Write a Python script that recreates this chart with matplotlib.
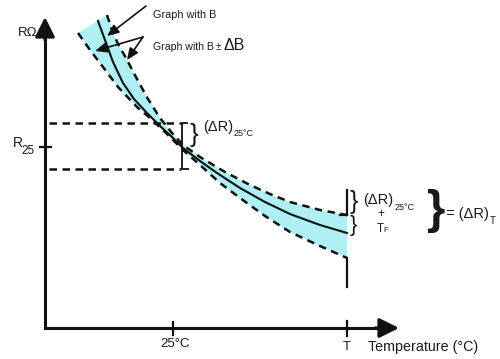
import numpy as np
import matplotlib
matplotlib.use("Agg")
import matplotlib.pyplot as plt

# Schematic curve data (x = temperature position, y = resistance position, both in drawing units)
solid_x = [98, 105, 113, 123, 134, 147, 160, 172, 183, 200, 217, 240, 265, 290, 320, 347]
solid_y = [21, 40, 62, 83, 99, 113, 126, 137, 148, 161, 173, 188, 202, 214, 225, 233]

upper_x = [107, 112, 118, 126, 137, 148, 160, 172, 183, 200, 225, 250, 270, 290, 320, 347]
upper_y = [15, 30, 44, 58, 79, 99, 118, 133, 145, 157, 172, 185, 194, 202, 210, 215]

lower_x = [78, 90, 103, 118, 137, 150, 165, 183, 200, 220, 240, 265, 290, 320, 347]
lower_y = [33, 50, 67, 87, 107, 118, 132, 150, 165, 183, 198, 216, 232, 246, 258]

# reference levels
r25_level = 147
dr25_upper = 123
dr25_lower = 169
t25_pos = 173
tT_pos = 347

plt.rcParams['font.family'] = ['Liberation Sans', 'DejaVu Sans']

fig = plt.figure(figsize=(5.0, 3.59), dpi=100)
ax = fig.add_axes([0, 0, 1, 1])
ax.set_xlim(0, 500)
ax.set_ylim(359, 0)
ax.axis('off')

K = '#111111'
TC = '#1a1a1a'
fill_c = '#aef0f4'

# band
poly_x = np.concatenate([lower_x, upper_x[::-1]])
poly_y = np.concatenate([lower_y, upper_y[::-1]])
ax.fill(poly_x, poly_y, color=fill_c, lw=0, zorder=1)

# curves
ax.plot(solid_x, solid_y, color=K, lw=1.5, zorder=3, solid_joinstyle='round')
ax.plot(upper_x, upper_y, color=K, lw=1.8, ls=(0, (3.0, 2.2)), zorder=3)
ax.plot(lower_x, lower_y, color=K, lw=1.8, ls=(0, (3.0, 2.2)), zorder=3)

# axes with arrows
ax.plot([45, 45], [328, 30], color=K, lw=2.2, solid_capstyle='projecting')
ax.plot([45, 385], [328, 328], color=K, lw=2.2, solid_capstyle='projecting')
ax.annotate('', xy=(45, 17), xytext=(45, 40),
            arrowprops=dict(arrowstyle='-|>,head_length=0.6,head_width=0.3',
                            mutation_scale=20, color=K, lw=2.2, shrinkA=0, shrinkB=0))
ax.annotate('', xy=(399, 328), xytext=(375, 328),
            arrowprops=dict(arrowstyle='-|>,head_length=0.6,head_width=0.3',
                            mutation_scale=20, color=K, lw=2.2, shrinkA=0, shrinkB=0))

# ticks
ax.plot([40, 51], [r25_level, r25_level], color=K, lw=1.6)
ax.plot([t25_pos, t25_pos], [322, 335], color=K, lw=1.6)
ax.plot([tT_pos, tT_pos], [321, 336], color=K, lw=1.6)

# dashed horizontal tolerance lines
ax.plot([49, 181], [dr25_upper, dr25_upper], color=K, lw=1.8, ls=(0, (3.0, 2.2)))
ax.plot([49, 181], [dr25_lower, dr25_lower], color=K, lw=1.8, ls=(0, (3.0, 2.2)))
# bracket at 25C
ax.plot([187, 182, 182, 188], [dr25_upper, dr25_upper, dr25_lower, dr25_lower], color=K, lw=1.3)

# vertical markers at T
ax.plot([tT_pos, tT_pos], [190, 215], color=K, lw=1.6)
ax.plot([340, tT_pos], [215, 215], color=K, lw=1.6)
ax.plot([tT_pos, tT_pos], [258, 287], color=K, lw=1.6)

# labels
ax.text(18, 33, 'RΩ', fontsize=9.5, color=TC, ha='left', va='center')
ax.text(13, 143, 'R', fontsize=10, color=TC, ha='left', va='center')
ax.text(21, 151, '25', fontsize=8.5, color=TC, ha='left', va='center')
ax.text(t25_pos + 2, 344, '25°C', fontsize=9.5, color=TC, ha='center', va='center')
ax.text(tT_pos, 347, 'T', fontsize=9.5, color=TC, ha='center', va='center')
ax.text(368, 347, 'Temperature (°C)', fontsize=10.3, color=TC, ha='left', va='center')

# annotations at top
ax.text(153, 15, 'Graph with B', fontsize=7.8, color=TC, ha='left', va='center')
ax.text(153, 47, 'Graph with B', fontsize=7.6, color=TC, ha='left', va='center')
ax.text(218, 47, '±', fontsize=7, color=TC, ha='center', va='center')
ax.text(223, 46, 'ΔB', fontsize=11.5, color=TC, ha='left', va='center')

ap = dict(arrowstyle='-|>,head_length=0.7,head_width=0.3', mutation_scale=10,
          color=K, lw=1.2, shrinkA=0, shrinkB=0)
ax.annotate('', xy=(107, 36), xytext=(146, 6), arrowprops=ap)
ax.annotate('', xy=(95, 51), xytext=(143, 37), arrowprops=ap)
ax.annotate('', xy=(127, 60), xytext=(143, 37), arrowprops=ap)

# brace and label at 25C
ax.text(190, 135, '}', fontsize=19, color=TC, ha='left', va='center')
ax.text(203, 127, '(ΔR)', fontsize=10.5, color=TC, ha='left', va='center')
ax.text(234, 134, '25°C', fontsize=6.5, color=TC, ha='left', va='center')

# braces and labels at T
ax.text(350, 202, '}', fontsize=18, color=TC, ha='left', va='center')
ax.text(350, 225, '}', fontsize=16, color=TC, ha='left', va='center')
ax.text(363, 200, '(ΔR)', fontsize=10.5, color=TC, ha='left', va='center')
ax.text(395, 207, '25°C', fontsize=6.5, color=TC, ha='left', va='center')
ax.text(381, 214, '+', fontsize=8.5, color=TC, ha='center', va='center')
ax.text(377, 229, 'T', fontsize=8.5, color=TC, ha='left', va='center')
ax.text(383, 231, 'F', fontsize=5.5, color=TC, ha='left', va='center')

ax.text(426, 211, '}', fontsize=34, color=TC, ha='left', va='center', fontweight='bold')
ax.text(446, 214, '= (ΔR)', fontsize=10.5, color=TC, ha='left', va='center')
ax.text(490, 221, 'T', fontsize=7, color=TC, ha='left', va='center')

fig.savefig('out.png', dpi=100)
